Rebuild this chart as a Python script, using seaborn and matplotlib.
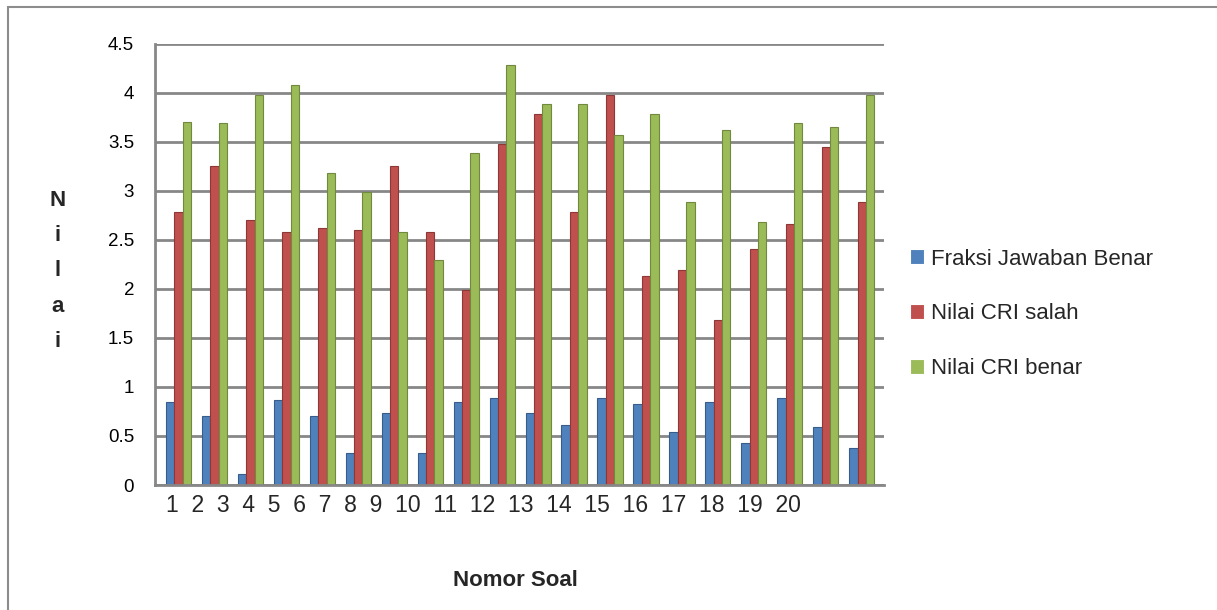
import pandas as pd
import matplotlib.pyplot as plt
import seaborn as sns
from matplotlib.patches import Rectangle

# Data
soal = [str(i) for i in range(1, 21)]
fraksi_benar = [0.85, 0.70, 0.11, 0.87, 0.70, 0.33, 0.73, 0.33, 0.85, 0.89,
                0.73, 0.61, 0.89, 0.83, 0.54, 0.85, 0.43, 0.89, 0.59, 0.38]
cri_salah = [2.78, 3.25, 2.70, 2.58, 2.62, 2.60, 3.25, 2.58, 1.99, 3.48,
             3.78, 2.78, 3.98, 2.13, 2.19, 1.68, 2.41, 2.66, 3.44, 2.88]
cri_benar = [3.70, 3.69, 3.98, 4.08, 3.18, 2.99, 2.58, 2.29, 3.38, 4.28,
             3.88, 3.88, 3.57, 3.78, 2.88, 3.62, 2.68, 3.69, 3.65, 3.98]
series_names = ['Fraksi Jawaban Benar', 'Nilai CRI salah', 'Nilai CRI benar']
y_ticks = [0, 0.5, 1, 1.5, 2, 2.5, 3, 3.5, 4, 4.5]
y_tick_labels = ['0', '0.5', '1', '1.5', '2', '2.5', '3', '3.5', '4', '4.5']

fill_colors = ['#4F81BD', '#C0504D', '#9BBB59']
edge_colors = ['#385D8A', '#8C3836', '#71893F']

df = pd.DataFrame({
    'Soal': soal * 3,
    'Seri': [s for s in series_names for _ in soal],
    'Nilai': fraksi_benar + cri_salah + cri_benar,
})

sns.set_style('white')
plt.rcParams['font.family'] = ['Liberation Sans', 'DejaVu Sans']

W, H = 1217, 610
fig = plt.figure(figsize=(W / 100, H / 100), dpi=100)
ax = fig.add_axes([155 / W, 1 - 485 / H, (884 - 155) / W, (485 - 43.5) / H])

sns.barplot(data=df, x='Soal', y='Nilai', hue='Seri', hue_order=series_names,
            palette=fill_colors, width=0.7, dodge=True, ax=ax,
            linewidth=0.8, saturation=1)
for cont, ec in zip(ax.containers, edge_colors):
    for bar in cont:
        bar.set_edgecolor(ec)

grid_col = '#878787'
ax.set_xlim(-0.654, 19.62)
ax.set_ylim(0, 4.5)
ax.set_yticks(y_ticks)
ax.set_yticklabels(y_tick_labels, fontsize=13.5)
ax.set_xticks([k - 0.6 for k in range(21)])
ax.set_xticklabels([])
ax.yaxis.grid(True, color=grid_col, lw=2)
ax.xaxis.grid(False)
ax.set_axisbelow(True)
ax.set_xlabel('')
ax.set_ylabel('')
for side in ['top', 'right']:
    ax.spines[side].set_visible(False)
for side in ['left', 'bottom']:
    ax.spines[side].set_color(grid_col)
    ax.spines[side].set_linewidth(2)
ax.tick_params(axis='both', direction='out', length=6, width=2, color=grid_col,
               labelcolor='black')
ax.tick_params(axis='y', pad=9)

# category labels, packed like the original
fig.text(166 / W, 1 - 506 / H, '  '.join(soal), fontsize=16.5,
         ha='left', va='center')

# axis titles
fig.text(515 / W, 1 - 580 / H, 'Nomor Soal', fontsize=16, weight='bold',
         ha='center', va='center')
fig.text(58 / W, 1 - 271 / H, '\n'.join('Nilai'), fontsize=16, weight='bold',
         ha='center', va='center', linespacing=1.9)

# legend
handles, labels = ax.get_legend_handles_labels()
ax.legend(handles, labels, loc='center left', bbox_to_anchor=(910 / W, 1 - 314 / H),
          bbox_transform=fig.transFigure, frameon=False, fontsize=16,
          handlelength=0.65, handleheight=0.65, handletextpad=0.3,
          labelspacing=1.52, borderpad=0, borderaxespad=0)

# outer chart border
fig.patches.append(Rectangle((8 / W, -0.05), 1.1, 1 - 7 / H + 0.05, fill=False,
                             edgecolor='#8c8c8c', lw=1.5, transform=fig.transFigure))

fig.savefig('out.png', dpi=100)
